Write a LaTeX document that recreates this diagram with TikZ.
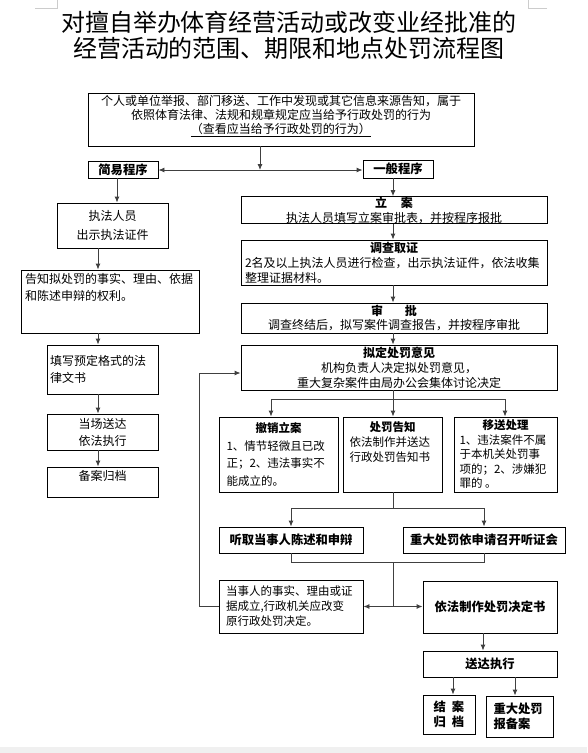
\documentclass[tikz,border=0pt]{standalone}
\usepackage{fontspec}
\setmainfont{Noto Sans CJK SC}
\usetikzlibrary{arrows.meta}

\newcommand{\bodyfont}{\fontsize{12}{15}\selectfont}
\newcommand{\headfont}{\fontsize{12.3}{15}\selectfont\bfseries}

\tikzset{
  box/.style={draw=black, line width=0.9pt, inner sep=0pt, font=\bodyfont},
  conn/.style={draw=black!75, line width=0.9pt},
  arr/.style={conn, -{Latex[length=6pt,width=5pt]}},
}

\begin{document}
\begin{tikzpicture}[x=1pt,y=-1pt]
\useasboundingbox (0,0) rectangle (587,753);

% page marks
\draw[gray!40, line width=0.6pt] (35,8) -- (57,8) -- (57,0);
\draw[gray!40, line width=0.6pt] (547,8) -- (528,8) -- (528,0);
\fill[gray!12] (0,747) rectangle (587,753);

% title
\node[align=center, font=\fontsize{24}{26}\selectfont] (title) at (289,35)
  {对擅自举办体育经营活动或改变业经批准的\\经营活动的范围、期限和地点处罚流程图};

% source of the case
\node[box, minimum width=386, minimum height=53] (source) at (281,119.5)
  {\parbox[c][49pt][t]{380pt}{\centering\fontsize{12}{14}\selectfont
   个人或单位举报、部门移送、工作中发现或其它信息来源告知，属于\\
   依照体育法律、法规和规章规定应当给予行政处罚的行为\\
   \underline{（查看应当给予行政处罚的行为）}}};

% two procedures
\node[box, font=\headfont, minimum width=70, minimum height=17] (jianyi) at (123,169.5) {简易程序};
\node[box, font=\headfont, minimum width=70, minimum height=18] (yiban) at (398,169) {一般程序};
\coordinate (fork) at (260,170);
\draw[arr] (source.south -| fork) -- (fork);
\draw[arr] (fork) -- (fork -| jianyi.east);
\draw[arr] (fork) -- (fork -| yiban.west);

% simple procedure (left column)
\coordinate (jcol) at (117,0);
\coordinate (lcol) at (98,0);
\node[box, minimum width=111, minimum height=45, align=center, font=\fontsize{12}{19}\selectfont] (zhifa) at (112.5,225.5)
  {执法人员\\出示执法证件};
\node[box, minimum width=178, minimum height=63] (gaozhi) at (110,301.5)
  {\parbox[c][57pt][t]{170pt}{\fontsize{12}{17}\selectfont 告知拟处罚的事实、理由、依据\\和陈述申辩的权利。}};
\node[box, minimum width=111, minimum height=49] (tianxie) at (102.5,369.5)
  {\parbox{105pt}{\fontsize{12}{17}\selectfont 填写预定格式的法\\律文书}};
\node[box, minimum width=111, minimum height=36, align=center, font=\fontsize{12}{17}\selectfont] (dangchang) at (102.5,432)
  {当场送达\\依法执行};
\node[box, minimum width=111, minimum height=30] (beian) at (102.5,482)
  {\parbox[c][24pt][t]{105pt}{\centering 备案归档}};

\draw[arr] (jianyi.south -| jcol) -- (zhifa.north -| jcol);
\foreach \a/\b in {zhifa/gaozhi, gaozhi/tianxie, tianxie/dangchang, dangchang/beian}
  \draw[arr] (\a.south -| lcol) -- (\b.north -| lcol);

% general procedure (right column)
\coordinate (rcol) at (393,0);
\node[box, minimum width=306, minimum height=26, align=center] (lian) at (394,210)
  {\textbf{立\hspace{14pt}案}\\执法人员填写立案审批表，并按程序报批};
\node[box, minimum width=306, minimum height=45] (diaocha) at (394,262.5)
  {\parbox{298pt}{\bodyfont\makebox[\hsize]{\bfseries 调查取证}\\
   2名及以上执法人员进行检查，出示执法证件，依法收集\\整理证据材料。}};
\node[box, minimum width=306, minimum height=30, align=center, font=\fontsize{12}{14}\selectfont] (shenpi) at (394,318)
  {\textbf{审\hspace{22pt}批}\\调查终结后，拟写案件调查报告，并按程序审批};
\node[box, minimum width=316, minimum height=45, align=center] (niding) at (399,367.5)
  {\textbf{拟定处罚意见}\\机构负责人决定拟处罚意见，\\重大复杂案件由局办公会集体讨论决定};

\foreach \a/\b in {yiban/lian, lian/diaocha, diaocha/shenpi, shenpi/niding}
  \draw[arr] (\a.south -| rcol) -- (\b.north -| rcol);

% three outcomes
\node[box, minimum width=119, minimum height=75] (chexiao) at (278.5,454.5)
  {\parbox[c][71pt][c]{104pt}{\fontsize{11.5}{17.5}\selectfont\makebox[\hsize]{\bfseries 撤销立案}\\
   1、情节轻微且已改\\正；2、违法事实不\\能成立的。}};
\node[box, minimum width=99, minimum height=75] (chufa) at (392.5,454.5)
  {\parbox[c][65pt][t]{86pt}{\fontsize{11.5}{15}\selectfont\makebox[\hsize]{\bfseries 处罚告知}\\
   依法制作并送达\\行政处罚告知书}};
\node[box, minimum width=103, minimum height=75] (yisong) at (505.5,454.5)
  {\parbox[c][71pt][c]{92pt}{\fontsize{11.5}{14.5}\selectfont\makebox[\hsize]{\bfseries 移送处理}\\
   1、违法案件不属\\于本机关处罚事\\项的；2、涉嫌犯\\罪的 。}};

\coordinate (br) at (393,399);
\coordinate (b1) at (271,399);
\coordinate (b3) at (505,399);
\draw[conn] (niding.south -| rcol) -- (br);
\draw[conn] (b1) -- (b3);
\draw[arr] (b1) -- (b1 |- chexiao.north);
\draw[arr] (br) -- (br |- chufa.north);
\draw[arr] (b3) -- (b3 |- yisong.north);

% hearing
\node[box, font=\headfont, minimum width=144, minimum height=26] (tingqu) at (291,540) {听取当事人陈述和申辩};
\node[box, font=\headfont, minimum width=162, minimum height=26] (tingzheng) at (484,540) {重大处罚依申请召开听证会};

\coordinate (m1) at (393,508);
\draw[conn] (chufa.south -| rcol) -- (m1);
\draw[conn] (m1 -| tingqu) -- (m1 -| tingzheng);
\draw[arr] (m1 -| tingqu) -- (tingqu.north);
\draw[arr] (m1 -| tingzheng) -- (tingzheng.north);

% decision
\node[box, minimum width=144, minimum height=53] (gaibian) at (291,606.5)
  {\parbox{130pt}{\fontsize{11.5}{15}\selectfont 当事人的事实、理由或证\\据成立,行政机关应改变\\原行政处罚决定。}};
\node[box, font=\headfont, minimum width=134, minimum height=52] (jueding) at (490,607) {依法制作处罚决定书};

\coordinate (m2) at (393,562);
\coordinate (m3) at (393,606.5);
\draw[conn] (tingqu.south) -- (tingqu.south |- m2) -- (tingzheng.south |- m2) -- (tingzheng.south);
\draw[conn] (m2) -- (m3);
\draw[arr] (m3) -- (m3 -| gaibian.east);
\draw[arr] (m3) -- (m3 -| jueding.west);

% back to the proposed penalty
\coordinate (fb) at (199,373);
\draw[arr] (gaibian.west) -| (fb) -- (fb -| niding.west);

% delivery and closing
\coordinate (dcol) at (483,0);
\coordinate (s1) at (453,0);
\coordinate (s2) at (515,0);
\node[box, font=\headfont, minimum width=134, minimum height=26] (songda) at (490,664) {送达执行};
\node[box, font=\headfont, minimum width=52, minimum height=39, align=center] (jiean) at (449,714.5)
  {结\hspace{6pt}案\\归\hspace{6pt}档};
\node[box, font=\headfont, minimum width=67, minimum height=41] (baobei) at (519.5,716.5)
  {\parbox{52pt}{重大处罚\\报备案}};

\draw[arr] (jueding.south -| dcol) -- (songda.north -| dcol);
\draw[arr] (songda.south -| s1) -- (jiean.north -| s1);
\draw[arr] (songda.south -| s2) -- (baobei.north -| s2);
\end{tikzpicture}
\end{document}
